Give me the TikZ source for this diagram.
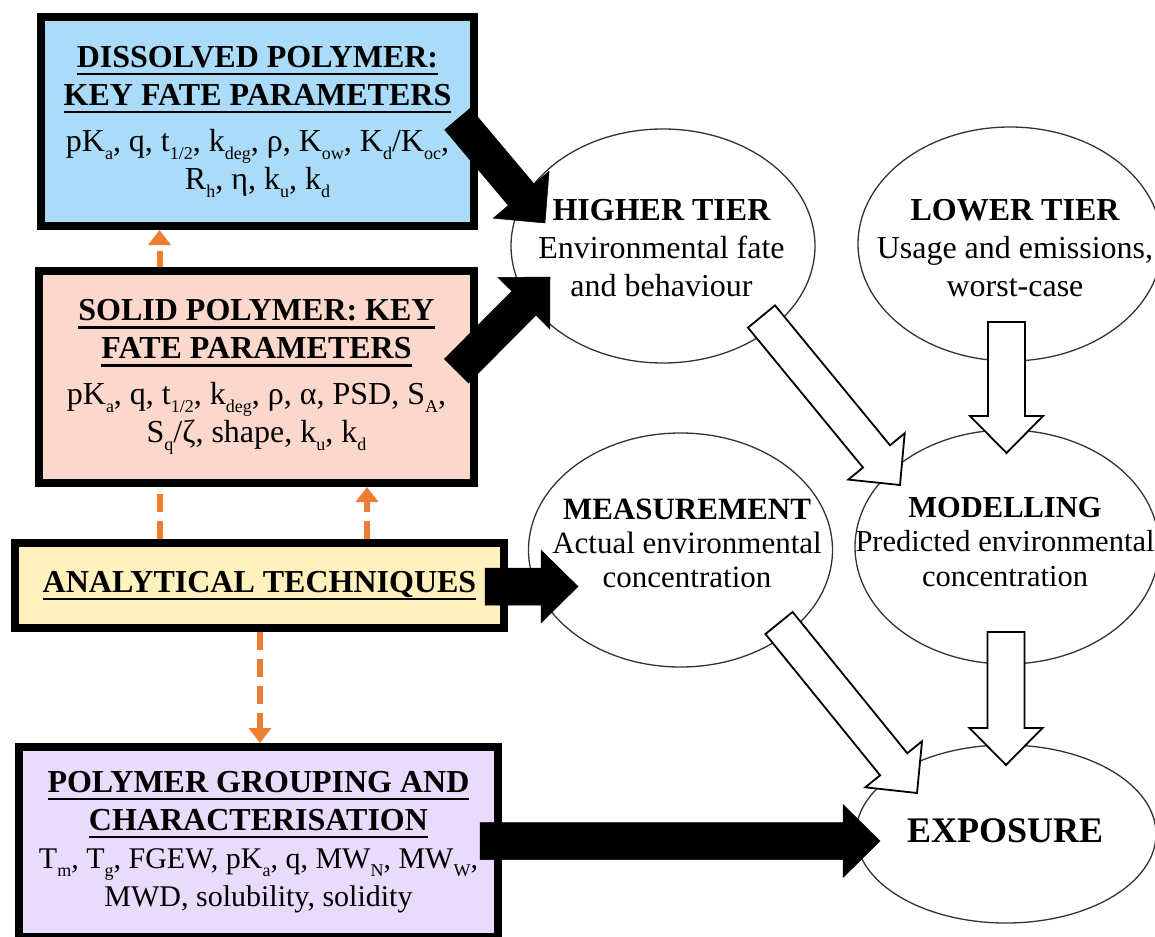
\documentclass[tikz,border=0pt]{standalone}
\usepackage{fontspec}
\setmainfont{Liberation Serif}
\usepackage{xcolor}
\usepackage{tikz}
\usetikzlibrary{arrows.meta}
\usetikzlibrary{calc}
\usetikzlibrary{shapes.geometric}
\definecolor{dissolvedblue}{HTML}{AADBF9}
\definecolor{solidpink}{HTML}{FCD7CC}
\definecolor{analyticyellow}{HTML}{FFF1BE}
\definecolor{grouppurple}{HTML}{E8DBFC}
\definecolor{dashorange}{HTML}{ED7D31}
\newcommand{\dn}[1]{\raisebox{-8pt}{\fontsize{18}{18}\selectfont #1}}
\newcommand{\hd}[1]{{\bfseries\setbox0\hbox{#1}\rlap{\rule[-8pt]{\wd0}{2.4pt}}\box0}}
\newcommand{\blockarrow}[4][18.5pt]{%
    \path ($(#4)!37pt!(#3)$) coordinate (arrowbase);
    \draw [#2] ($(#3)!#1!90:(#4)$) -- ($(arrowbase)!#1!90:(#4)$) -- ($(arrowbase)!36.5pt!90:(#4)$) -- (#4)
        -- ($(arrowbase)!36.5pt!-90:(#4)$) -- ($(arrowbase)!#1!-90:(#4)$) -- ($(#3)!#1!-90:(#4)$) -- cycle;
}
\tikzset{
    boxnode/.style = {align=center, inner sep=0pt, text centered, font=\fontsize{32}{38}\selectfont},
    fate_box/.style = {boxnode, rectangle, draw=black, line width=8pt},
    bubble/.style = {ellipse, draw=black!80, line width=1.3pt, fill=white, inner sep=0pt,
                     minimum width=304pt, minimum height=234pt},
    bubble_text/.style = {align=center, inner sep=0pt, text centered, font=\fontsize{32}{38}\selectfont},
    black_arrow/.style = {fill=black, draw=black, line width=0.5pt},
    white_arrow/.style = {fill=white, draw=black, line width=1.8pt, line join=miter},
    orange_arrow/.style = {draw=dashorange, line width=6pt, dash pattern=on 18pt off 9pt,
                           -{Triangle[length=15pt,width=22pt]}}
}
\begin{document}
\begin{tikzpicture}[x=1pt, y=-1pt]
                        \useasboundingbox (0,0) rectangle (1155,936);
                        \clip (0,0) rectangle (1155,936);
                        \coordinate (oleft) at (159.5,0);
                        \coordinate (oright) at (367,0);
                        \coordinate (odown) at (260,0);
                        \node [fate_box, fill=dissolvedblue, minimum width=433pt, minimum height=209pt] (dissolved) at (257.5,121.5)
                            {\hd{DISSOLVED POLYMER:}\\ \hd{KEY FATE PARAMETERS}\\[8pt]
                             pK\dn{a}, q, t\dn{1/2}, k\dn{deg}, ρ, K\dn{ow}, K\dn{d}/K\dn{oc},\\
                             R\dn{h}, η, k\dn{u}, k\dn{d}};
                        \node [fate_box, fill=analyticyellow, minimum width=489pt, minimum height=85pt] (analytical) at (259.5,585.5)
                            {\hd{ANALYTICAL TECHNIQUES}};
                        \draw [orange_arrow] (analytical.north -| oleft) -- (dissolved.south -| oleft);
                        \node [fate_box, fill=solidpink, minimum width=435pt, minimum height=212pt] (solid) at (256.5,377)
                            {\hd{SOLID POLYMER: KEY}\\ \hd{FATE PARAMETERS}\\[8pt]
                             pK\dn{a}, q, t\dn{1/2}, k\dn{deg}, ρ, α, PSD, S\dn{A},\\
                             S\dn{q}/ζ, shape, k\dn{u}, k\dn{d}};
                        \draw [orange_arrow] (analytical.north -| oright) -- (solid.south -| oright);
                        \node [fate_box, fill=grouppurple, minimum width=479pt, minimum height=190pt] (grouping) at (258.5,842)
                            {\hd{POLYMER GROUPING AND}\\ \hd{CHARACTERISATION}\\
                             {\fontsize{30}{38}\selectfont T\dn{m}, T\dn{g}, FGEW, pK\dn{a}, q, MW\dn{N}, MW\dn{W},}\\
                             {\fontsize{30}{38}\selectfont MWD, solubility, solidity}};
                        \draw [orange_arrow] (analytical.south -| odown) -- (grouping.north -| odown);
                        \node [bubble] (higher) at (663,246) {};
                        \node [bubble_text] (highertext) at (661.5,248.5)
                            {{\bfseries HIGHER TIER}\\Environmental fate\\and behaviour};
                        \node [bubble] (lower) at (1010,244) {};
                        \node [bubble_text] (lowertext) at (1015,248.5)
                            {{\bfseries LOWER TIER}\\Usage and emissions,\\worst-case};
                        \node [bubble] (measurement) at (680.5,550) {};
                        \node [bubble_text, font=\fontsize{31}{34}\selectfont] (measurementtext) at (687,543.5)
                            {{\bfseries MEASUREMENT}\\Actual environmental\\concentration};
                        \node [bubble] (modelling) at (1007,547) {};
                        \node [bubble_text, font=\fontsize{30.5}{34.5}\selectfont] (modellingtext) at (1005,542)
                            {{\bfseries MODELLING}\\Predicted environmental\\concentration};
                        \node [bubble, minimum width=300pt, minimum height=178pt] (exposure) at (1006,834) {};
                        \node [bubble_text, font=\fontsize{36}{40}\selectfont] (exposuretext) at (1005,831)
                            {\bfseries EXPOSURE};
                        \coordinate (lowertail) at (1006.5,322);
                        \coordinate (lowertip) at (1006.5,453);
                        \coordinate (modeltail) at (1006,632);
                        \coordinate (modeltip) at (1006,765);
                        \coordinate (highertail) at (761.5,316.5);
                        \coordinate (highertip) at (900,485);
                        \coordinate (meastail) at (779,623);
                        \coordinate (meastip) at (917,793);
                        \blockarrow{white_arrow}{lowertail}{lowertip}
                        \blockarrow{white_arrow}{modeltail}{modeltip}
                        \blockarrow[17.5pt]{white_arrow}{highertail}{highertip}
                        \blockarrow[17.5pt]{white_arrow}{meastail}{meastip}
                        \coordinate (dissolvedtail) at (457.5,119);
                        \coordinate (dissolvedtip) at (545,223);
                        \coordinate (solidtail) at (456.5,371);
                        \coordinate (solidtip) at (550,277);
                        \coordinate (analytictail) at (485,586.5);
                        \coordinate (analytictip) at (578,586.5);
                        \coordinate (groupingtail) at (480,841);
                        \coordinate (groupingtip) at (880,841);
                        \blockarrow[16.75pt]{black_arrow}{dissolvedtail}{dissolvedtip}
                        \blockarrow[17pt]{black_arrow}{solidtail}{solidtip}
                        \blockarrow{black_arrow}{analytictail}{analytictip}
                        \blockarrow{black_arrow}{groupingtail}{groupingtip}
                    \end{tikzpicture}
\end{document}
